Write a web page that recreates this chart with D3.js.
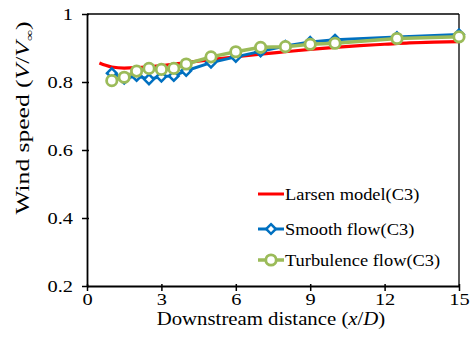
<!DOCTYPE html>
<html>
<head>
<meta charset="utf-8">
<script src="https://cdn.jsdelivr.net/npm/d3@7"></script>
<style>
  html, body { margin: 0; padding: 0; background: #fff; }
  svg { display: block; }
  text { font-family: "Liberation Serif", "Times New Roman", serif; }
</style>
</head>
<body>
<svg id="chart" width="476" height="342"></svg>
<script>
// Wake wind speed recovery behind the turbine (case C3)
const xTicks = [0, 3, 6, 9, 12, 15];
const yTicks = [0.2, 0.4, 0.6, 0.8, 1];

const larsenX = [0.5, 0.75, 1, 1.5, 2, 3, 4, 5, 6, 7, 8, 9, 10, 11, 12, 13, 14, 15];
const larsenY = [0.856, 0.849, 0.844, 0.841, 0.842, 0.848, 0.857, 0.866, 0.874, 0.882, 0.889, 0.896, 0.902, 0.907, 0.911, 0.915, 0.917, 0.919];

const measX = [1, 1.5, 2, 2.5, 3, 3.5, 4, 5, 6, 7, 8, 9, 10, 12.5, 15];
const smoothY = [0.826, 0.810, 0.818, 0.808, 0.816, 0.818, 0.833, 0.857, 0.874, 0.890, 0.906, 0.918, 0.924, 0.932, 0.940];
const turbY = [0.804, 0.814, 0.832, 0.840, 0.837, 0.840, 0.853, 0.874, 0.889, 0.902, 0.904, 0.911, 0.914, 0.928, 0.933];

const seriesNames = ["Larsen model(C3)", "Smooth flow(C3)", "Turbulence flow(C3)"];
const colors = { larsen: "#ff0000", smooth: "#0070c0", turb: "#9bbb59" };

const FONT = "'Liberation Serif', 'Times New Roman', serif";
const svg = d3.select("#chart");
const plotLeft = 87, plotRight = 459, plotTop = 14, plotBottom = 286;

const x = d3.scaleLinear().domain([0, 15]).range([plotLeft, plotRight]);
const y = d3.scaleLinear().domain([0.2, 1]).range([plotBottom, plotTop]);

// frame: top and right edges
svg.append("line").attr("x1", plotLeft).attr("x2", plotRight).attr("y1", plotTop).attr("y2", plotTop)
  .attr("stroke", "#000").attr("stroke-width", 1.3);
svg.append("line").attr("x1", plotRight).attr("x2", plotRight).attr("y1", plotTop).attr("y2", plotBottom)
  .attr("stroke", "#000").attr("stroke-width", 1.3);

// axes
const tickStretch = 1.2;
const xAxis = svg.append("g").attr("transform", `translate(0,${plotBottom})`)
  .call(d3.axisBottom(x).tickValues(xTicks).tickFormat(d3.format("d")).tickSize(5).tickSizeOuter(0).tickPadding(2));
const yAxis = svg.append("g").attr("transform", `translate(${plotLeft},0)`)
  .call(d3.axisLeft(y).tickValues(yTicks).tickFormat(d => d === 1 ? "1" : d3.format(".1f")(d)).tickSize(5).tickSizeOuter(0));

[xAxis, yAxis].forEach(g => {
  g.attr("font-family", FONT);
  g.select(".domain").attr("stroke", "#000").attr("stroke-width", 1.8);
  g.selectAll(".tick line").attr("stroke", "#000").attr("stroke-width", 1.5);
  g.selectAll(".tick text").attr("fill", "#000").attr("font-size", 17)
    .attr("font-family", FONT).attr("transform", `scale(${tickStretch},1)`);
});
xAxis.selectAll(".tick line").attr("y1", -2);
yAxis.selectAll(".tick line").attr("x1", 2);
yAxis.selectAll(".tick text").attr("x", -14 / tickStretch);

// axis titles
const xt = svg.append("text").attr("transform", "translate(271,325) scale(1.155,1)")
  .attr("text-anchor", "middle").attr("font-size", 18).attr("fill", "#000").attr("font-family", FONT);
xt.append("tspan").text("Downstream distance (");
xt.append("tspan").attr("font-style", "italic").text("x");
xt.append("tspan").text("/");
xt.append("tspan").attr("font-style", "italic").text("D");
xt.append("tspan").text(")");

const yt = svg.append("text").attr("transform", "translate(29,118) rotate(-90) scale(1.42,1)")
  .attr("text-anchor", "middle").attr("font-size", 18).attr("fill", "#000").attr("font-family", FONT);
yt.append("tspan").text("Wind speed (");
yt.append("tspan").attr("font-style", "italic").text("V");
yt.append("tspan").text("/");
yt.append("tspan").attr("font-style", "italic").text("V");
yt.append("tspan").attr("font-size", 11).attr("dy", 4).text("∞");
yt.append("tspan").attr("dy", -4).text(")");

const line = d3.line().x(d => x(d[0])).y(d => y(d[1]));
const larsen = larsenX.map((v, i) => [v, larsenY[i]]);
const smooth = measX.map((v, i) => [v, smoothY[i]]);
const turb = measX.map((v, i) => [v, turbY[i]]);

const plot = svg.append("g");
plot.append("path").datum(larsen).attr("d", line.curve(d3.curveMonotoneX))
  .attr("fill", "none").attr("stroke", colors.larsen).attr("stroke-width", 3.2);
line.curve(d3.curveLinear);

plot.append("path").datum(smooth).attr("d", line)
  .attr("fill", "none").attr("stroke", colors.smooth).attr("stroke-width", 3);
const diamond = d3.symbol().type(d3.symbolDiamond2).size(60);
plot.selectAll(".dm").data(smooth).join("path").attr("class", "dm")
  .attr("transform", d => `translate(${x(d[0])},${y(d[1])})`)
  .attr("d", diamond).attr("fill", "#fff").attr("stroke", colors.smooth).attr("stroke-width", 2.5);

plot.append("path").datum(turb).attr("d", line)
  .attr("fill", "none").attr("stroke", colors.turb).attr("stroke-width", 3.5);
plot.selectAll(".ci").data(turb).join("circle").attr("class", "ci")
  .attr("cx", d => x(d[0])).attr("cy", d => y(d[1])).attr("r", 5.2)
  .attr("fill", "#fff").attr("stroke", colors.turb).attr("stroke-width", 2.8);

// legend
const legY = [194, 229, 260];
const lg = svg.append("g");
seriesNames.forEach((name, i) => {
  const yy = legY[i];
  const c = [colors.larsen, colors.smooth, colors.turb][i];
  lg.append("line").attr("x1", 258).attr("x2", 284).attr("y1", yy).attr("y2", yy)
    .attr("stroke", c).attr("stroke-width", i === 2 ? 3.5 : 3);
  if (i === 1) {
    lg.append("path").attr("transform", `translate(271,${yy})`).attr("d", diamond)
      .attr("fill", "#fff").attr("stroke", c).attr("stroke-width", 2.5);
  } else if (i === 2) {
    lg.append("circle").attr("cx", 271).attr("cy", yy).attr("r", 5.2)
      .attr("fill", "#fff").attr("stroke", c).attr("stroke-width", 2.8);
  }
  lg.append("text").attr("transform", `translate(285,${yy + 6}) scale(1.15,1)`)
    .attr("font-size", 16).attr("fill", "#000").attr("font-family", FONT).text(name);
});
</script>
</body>
</html>
